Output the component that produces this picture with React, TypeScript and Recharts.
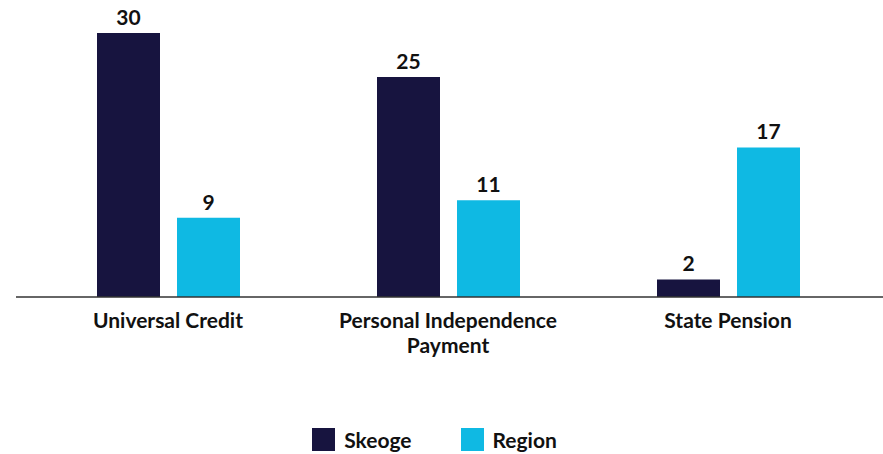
import { BarChart, Bar, XAxis, YAxis, LabelList, Legend } from 'recharts';

// Benefit claimants by type (%)
const categories = ['Universal Credit', 'Personal Independence Payment', 'State Pension'];
const skeoge = [30, 25, 2];
const region = [9, 11, 17];

const seriesNames = ['Skeoge', 'Region'];
const colors = ['#17143f', '#0fb9e3'];

const data = categories.map((name, i) => ({ name, skeoge: skeoge[i], region: region[i] }));

const font = 'Lato, "Open Sans", sans-serif';
const textStyle = { fontFamily: font, fontSize: 21, fontWeight: 700, fill: '#111' };

// greedy wrap on word boundaries
const wrap = (s: string, max: number) => {
  const lines: string[] = [];
  let cur = '';
  s.split(' ').forEach((w) => {
    const next = cur ? cur + ' ' + w : w;
    if (next.length > max && cur) {
      lines.push(cur);
      cur = w;
    } else cur = next;
  });
  if (cur) lines.push(cur);
  return lines;
};

const CategoryTick = (props: any) => {
  const { x, y, payload } = props;
  const lines = wrap(payload.value, 22);
  return (
    <text x={x} y={y + 23} textAnchor="middle" style={textStyle}>
      {lines.map((l, i) => (
        <tspan key={i} x={x} dy={i === 0 ? 0 : 25}>
          {l}
        </tspan>
      ))}
    </text>
  );
};

const LegendBox = () => (
  <div style={{ display: 'flex', justifyContent: 'center', gap: 49, fontFamily: font, fontSize: 21, fontWeight: 700, color: '#111', marginLeft: -30 }}>
    {seriesNames.map((s, i) => (
      <div key={s} style={{ display: 'flex', alignItems: 'center' }}>
        <span style={{ display: 'inline-block', width: 23, height: 23, background: colors[i], marginRight: 9 }} />
        {s}
      </div>
    ))}
  </div>
);

export default function App() {
  return (
    <div style={{ position: 'absolute', left: 0, top: 0, background: '#fff' }}>
      <BarChart
        width={883}
        height={454}
        data={data}
        margin={{ top: 33, right: 0, left: 16, bottom: 0 }}
        barSize={63}
        barGap={17}
      >
        <YAxis hide domain={[0, 30]} />
        <XAxis
          dataKey="name"
          padding={{ left: 12, right: 15 }}
          axisLine={{ stroke: '#333', strokeWidth: 1.5 }}
          tickLine={false}
          tick={<CategoryTick />}
          height={76}
          interval={0}
        />
        <Legend verticalAlign="bottom" content={<LegendBox />} wrapperStyle={{ paddingTop: 56, bottom: 2 }} />
        <Bar dataKey="skeoge" name={seriesNames[0]} fill={colors[0]} isAnimationActive={false}>
          <LabelList dataKey="skeoge" position="top" offset={8} style={textStyle} />
        </Bar>
        <Bar dataKey="region" name={seriesNames[1]} fill={colors[1]} isAnimationActive={false}>
          <LabelList dataKey="region" position="top" offset={8} style={textStyle} />
        </Bar>
      </BarChart>
    </div>
  );
}
